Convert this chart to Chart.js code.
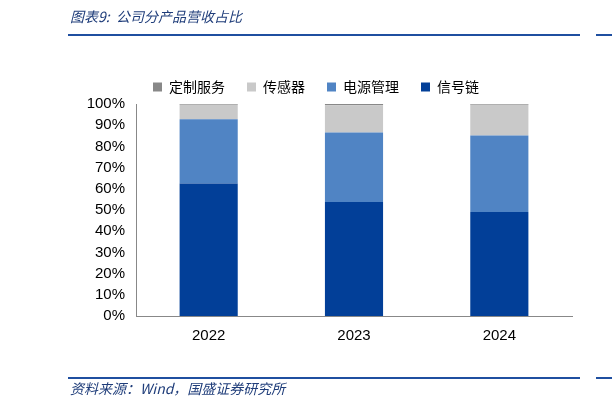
<!DOCTYPE html>
<html><head><meta charset="utf-8">
<script src="https://cdn.jsdelivr.net/npm/chart.js@4"></script>
<style>body{margin:0;background:#fff}#wrap{width:612px;height:410px;position:relative}</style>
</head><body><div id="wrap"><canvas id="c"></canvas></div>
<script>
// data
const years = ["2022", "2023", "2024"];
const signalChain = [62.5, 53.8, 49.0];
const powerMgmt = [30.3, 32.7, 36.1];
const sensor = [6.9, 12.9, 14.6];
const custom = [0.3, 0.6, 0.3];
const yTicks = [0, 10, 20, 30, 40, 50, 60, 70, 80, 90, 100];

const FONT = "'Liberation Sans', Arial, sans-serif";
const CJK = "'Noto Sans CJK SC', sans-serif";

// title, rules and source note
const frame = {
  id: "frame",
  afterDraw(chart) {
    const g = chart.ctx;
    g.save();
    g.fillStyle = "#1F3D7A";
    g.font = "italic 14px " + CJK;
    g.textBaseline = "middle";
    g.fillText("图表9:  公司分产品营收占比", 70, 17);
    g.fillText("资料来源：Wind，国盛证券研究所", 70, 389);
    g.fillStyle = "#1F4FA0";
    g.fillRect(68, 34, 512, 2);
    g.fillRect(68, 377, 512, 2);
    g.fillRect(596, 34, 16, 2);
    g.fillRect(596, 377, 16, 2);
    g.restore();
  }
};

new Chart(document.getElementById("c"), {
  type: "bar",
  data: {
    labels: years,
    datasets: [
      { label: "信号链", data: signalChain, backgroundColor: "#023F98" },
      { label: "电源管理", data: powerMgmt, backgroundColor: "#5084C4" },
      { label: "传感器", data: sensor, backgroundColor: "#C9C9C9" },
      { label: "定制服务", data: custom, backgroundColor: "#888888" }
    ]
  },
  options: {
    responsive: true,
    maintainAspectRatio: false,
    animation: false,
    layout: { padding: { top: 58, left: 60, right: 40, bottom: 62 } },
    datasets: { bar: { barPercentage: 0.4, categoryPercentage: 1 } },
    plugins: {
      legend: {
        reverse: true,
        labels: { font: { family: CJK, size: 14 }, color: "#000", boxWidth: 9, boxHeight: 9, padding: 22 }
      },
      tooltip: { enabled: false }
    },
    scales: {
      x: {
        stacked: true,
        grid: { display: false },
        border: { color: "#888" },
        ticks: { font: { family: FONT, size: 15 }, color: "#000" }
      },
      y: {
        stacked: true,
        min: 0, max: 100,
        afterBuildTicks(s) { s.ticks = yTicks.map(v => ({ value: v })); },
        afterFit(s) { s.width = 76; },
        grid: { display: false, drawTicks: true },
        border: { color: "#888" },
        ticks: { font: { family: FONT, size: 15 }, color: "#000", callback: v => v + "%" }
      }
    }
  },
  plugins: [frame]
});
</script></body></html>
